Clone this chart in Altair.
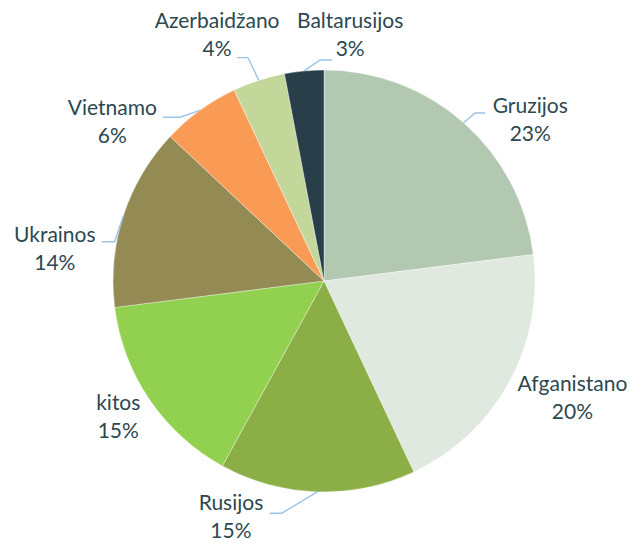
import math
import altair as alt
import pandas as pd

# Shares by country (percent), clockwise from 12 o'clock
countries = ["Gruzijos", "Afganistano", "Rusijos", "kitos", "Ukrainos",
             "Vietnamo", "Azerbaidžano", "Baltarusijos"]
shares = [23, 20, 15, 15, 14, 6, 4, 3]
colors = ["#b3c8b1", "#e0e9df", "#8cae46", "#92d050", "#948a54",
          "#f99b55", "#c4d79b", "#283f4a"]

# Label placement around the pie: (angle in degrees clockwise from top, distance from centre)
label_polar = {
    "Gruzijos": (52.2, 261), "Afganistano": (115.4, 275), "Rusijos": (201.4, 255),
    "kitos": (236.4, 247), "Ukrainos": (276.6, 271), "Vietnamo": (306.7, 264),
    "Azerbaidžano": (336.4, 267), "Baltarusijos": (6.1, 246),
}
# Leader lines: elbow (angle, distance) and horizontal tail length
leaders = {
    "Gruzijos": (42.0, 226, 10), "Baltarusijos": (359.0, 221, 12),
    "Azerbaidžano": (341.2, 236, -11), "Vietnamo": (318.7, 218, -17),
    "Ukrainos": (280.6, 213, -13), "Rusijos": (190.3, 236, -12),
}

W, H = 629, 544
CX, CY, R = 324, 281, 211
LINE_H = 28


def polar(angle, r):
    a = math.radians(angle)
    return CX + r * math.sin(a), CY - r * math.cos(a)


pie_df = pd.DataFrame({"country": countries, "share": shares, "idx": range(len(countries))})

# text positions
lab_rows = []
for c, v in zip(countries, shares):
    ang, dist = label_polar[c]
    x, y = polar(ang, dist)
    lab_rows.append({"country": c, "label": f"{c}\n{v}%", "x": x, "y": y})
lab_df = pd.DataFrame(lab_rows)

# leader lines start at each slice's mid-angle on the rim
total = sum(shares)
cum = 0
mid = {}
for c, v in zip(countries, shares):
    mid[c] = (cum + v / 2) / total * 360
    cum += v
line_rows = []
for c, (ea, er, tail) in leaders.items():
    sx, sy = polar(mid[c], R)
    ex, ey = polar(ea, er)
    line_rows += [
        {"country": c, "k": 0, "x": sx, "y": sy},
        {"country": c, "k": 1, "x": ex, "y": ey},
        {"country": c, "k": 2, "x": ex + tail, "y": ey},
    ]
line_df = pd.DataFrame(line_rows)

xs = alt.Scale(domain=[0, W], range=[0, W])
ys = alt.Scale(domain=[0, H], range=[0, H])

pie = alt.Chart(pie_df).mark_arc(outerRadius=R, stroke="white", strokeWidth=0.35).encode(
    theta=alt.Theta("share:Q", stack=True),
    order=alt.Order("idx:Q"),
    color=alt.Color("country:N", scale=alt.Scale(domain=countries, range=colors), legend=None),
    x=alt.value(CX),
    y=alt.value(CY),
)

lines = alt.Chart(line_df).mark_line(color="#9dc3e6", strokeWidth=1.4).encode(
    x=alt.X("x:Q", scale=xs, axis=None),
    y=alt.Y("y:Q", scale=ys, axis=None),
    detail="country:N",
    order="k:Q",
)

# two-line labels, block centred on the anchor point
labels = alt.Chart(lab_df).mark_text(
    font="Lato", fontSize=21, lineHeight=LINE_H, color="#2c4850",
    align="center", baseline="middle", lineBreak="\n", dy=-LINE_H / 2,
).encode(
    x=alt.X("x:Q", scale=xs, axis=None),
    y=alt.Y("y:Q", scale=ys, axis=None),
    text="label:N",
)

chart = alt.layer(pie, lines, labels).properties(
    width=W, height=H, padding=0, autosize=alt.AutoSizeParams(type="none"),
).configure_view(stroke=None)

chart.save("out.html", embed_options={"renderer": "svg", "actions": False})
